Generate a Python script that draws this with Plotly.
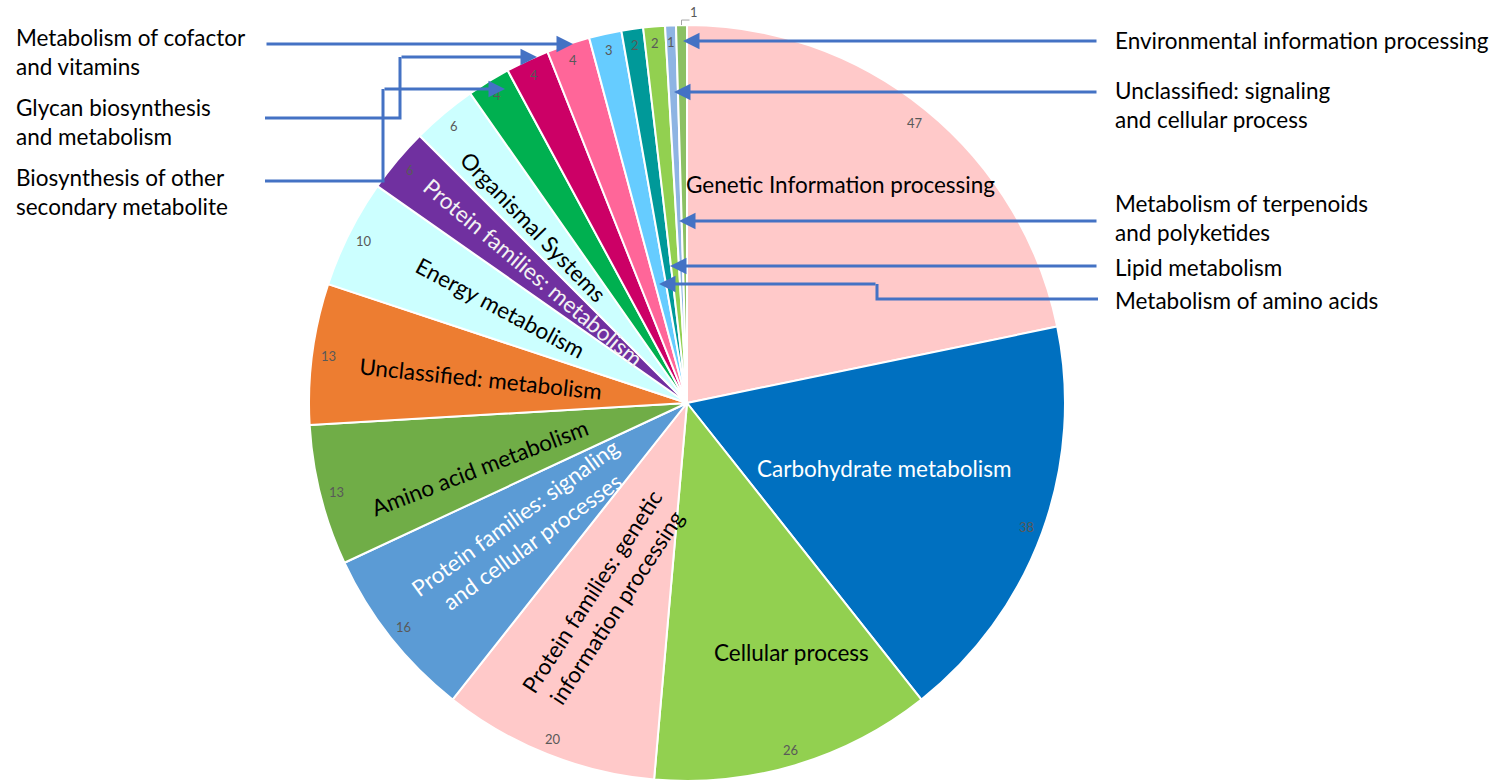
import math
import plotly.graph_objects as go

# ---------------- data ----------------
categories = [
    "Genetic Information processing",
    "Carbohydrate metabolism",
    "Cellular process",
    "Protein families: genetic information processing",
    "Protein families: signaling and cellular processes",
    "Amino acid metabolism",
    "Unclassified: metabolism",
    "Energy metabolism",
    "Protein families: metabolism",
    "Organismal Systems",
    "Biosynthesis of other secondary metabolite",
    "Glycan biosynthesis and metabolism",
    "Metabolism of cofactor and vitamins",
    "Metabolism of amino acids",
    "Lipid metabolism",
    "Metabolism of terpenoids and polyketides",
    "Unclassified: signaling and cellular process",
    "Environmental information processing",
]
values = [47, 38, 26, 20, 16, 13, 13, 10, 6, 6, 4, 4, 4, 3, 2, 2, 1, 1]

# ---------------- styles ----------------
colors = [
    "#FFC9C9", "#0070C0", "#92D050", "#FFC9C9", "#5B9BD5", "#70AD47",
    "#ED7D31", "#CCFFFF", "#7030A0", "#CCFFFF", "#00B050", "#CC0066",
    "#FF6699", "#66CCFF", "#009999", "#92D050", "#8EB4E3", "#8CC063",
]

W, H = 1491, 783
FONT = "Lato"
FS = 22.5
LINE = "#4472C4"

# pie geometry (pixels)
CX, CY, R = 687.0, 403.0, 378.0


def px(x):
    return x / W


def py(y):
    return 1 - y / H


def polar(rfrac, theta_deg):
    t = math.radians(theta_deg)
    return CX + rfrac * R * math.sin(t), CY - rfrac * R * math.cos(t)


total = sum(values)
mids = []
acc = 0
for v in values:
    mids.append((acc + v / 2) / total * 360.0)
    acc += v

fig = go.Figure(go.Pie(
    labels=categories,
    values=values,
    sort=False,
    direction="clockwise",
    rotation=0,
    marker=dict(colors=colors, line=dict(color="white", width=2)),
    textinfo="none",
    hoverinfo="label+value",
    showlegend=False,
    domain=dict(x=[px(CX - R), px(CX + R)], y=[py(CY + R), py(CY - R)]),
))

annotations = []

# inside category labels: (index, text, r fraction, angle offset, textangle, color)
inside_labels = [
    (0, "Genetic Information processing", 0.706, -4.0, 0, "#000000"),
    (1, "Carbohydrate metabolism", 0.549, -1.7, 0, "#FFFFFF"),
    (2, "Cellular process", 0.714, -6.0, 0, "#000000"),
    (3, "Protein families: genetic<br>information processing", 0.563, 1.2, -57, "#000000"),
    (4, "Protein families: signaling<br>and cellular processes", 0.545, 0.5, -36, "#FFFFFF"),
    (5, "Amino acid metabolism", 0.574, -3.2, -21, "#000000"),
    (6, "Unclassified: metabolism", 0.55, -0.6, 6, "#000000"),
    (7, "Energy metabolism", 0.556, 0.5, 28, "#000000"),
    (8, "Protein families: metabolism", 0.533, 0.2, 40, "#F2F2F2"),
    (9, "Organismal Systems", 0.619, -1.2, 46, "#000000"),
]
for i, txt, rf, dth, ang, col in inside_labels:
    x, y = polar(rf, mids[i] + dth)
    annotations.append(dict(
        x=px(x), y=py(y), xref="paper", yref="paper", text=txt,
        showarrow=False, textangle=ang, xanchor="center", yanchor="middle",
        font=dict(family=FONT, size=FS, color=col),
    ))

# value labels near the rim
for i, v in enumerate(values):
    if i == len(values) - 1:
        x, y = polar(1.035, mids[i] + 1.9)
    else:
        x, y = polar(0.957, mids[i])
    annotations.append(dict(
        x=px(x), y=py(y), xref="paper", yref="paper", text=str(v),
        showarrow=False, xanchor="center", yanchor="middle",
        font=dict(family=FONT, size=13, color="#595959"),
    ))

# leader line for the outside value label
ex, ey = polar(1.0, mids[-1])
shapes = [dict(
    type="path", xref="paper", yref="paper",
    path=f"M {px(ex)},{py(ey)} L {px(ex)},{py(ey - 5)} L {px(ex + 8)},{py(ey - 5)}",
    line=dict(color="#A6A6A6", width=1),
)]

# callouts: (text, text x, text y, anchor, polyline points (pixels), tip)
callouts = [
    ("Metabolism of cofactor<br>and vitamins", 14, 52, "left",
     [(265, 44)], (573, 44)),
    ("Glycan biosynthesis<br>and metabolism", 14, 122, "left",
     [(265, 118), (400, 118), (400, 57)], (537, 57)),
    ("Biosynthesis of other<br>secondary metabolite", 14, 192, "left",
     [(265, 181), (383, 181), (383, 89)], (505, 89)),
    ("Environmental information processing", 1113, 40, "left",
     [(1098, 41)], (683, 41)),
    ("Unclassified: signaling<br>and cellular process", 1113, 105, "left",
     [(1098, 92)], (674, 92)),
    ("Metabolism of terpenoids<br>and polyketides", 1113, 218, "left",
     [(1098, 221)], (679, 221)),
    ("Lipid metabolism", 1113, 268, "left",
     [(1098, 266)], (670, 266)),
    ("Metabolism of amino acids", 1113, 300, "left",
     [(1098, 299), (877, 299), (877, 284)], (659, 284)),
]
for txt, tx, ty, anc, pts, tip in callouts:
    annotations.append(dict(
        x=px(tx), y=py(ty), xref="paper", yref="paper", text=txt,
        showarrow=False, xanchor=anc, yanchor="middle", align="left",
        font=dict(family=FONT, size=FS, color="#000000"),
    ))
    if len(pts) > 1:
        d = "M " + " L ".join(f"{px(a)},{py(b)}" for a, b in pts)
        shapes.append(dict(type="path", xref="paper", yref="paper", path=d,
                           line=dict(color=LINE, width=3)))
    lx, ly = pts[-1]
    annotations.append(dict(
        x=px(tip[0]), y=py(tip[1]), xref="paper", yref="paper",
        ax=lx - tip[0], ay=ly - tip[1], axref="pixel", ayref="pixel",
        text="", showarrow=True, arrowhead=2, arrowsize=1.1, arrowwidth=3,
        arrowcolor=LINE, standoff=0,
    ))

fig.update_layout(
    width=W, height=H,
    margin=dict(l=0, r=0, t=0, b=0),
    paper_bgcolor="white",
    plot_bgcolor="white",
    annotations=annotations,
    shapes=shapes,
    font=dict(family=FONT),
)

fig.write_html(
    "out.html",
    config={"displayModeBar": False},
    post_script="document.body.style.margin='0';document.body.style.overflow='hidden';",
)
